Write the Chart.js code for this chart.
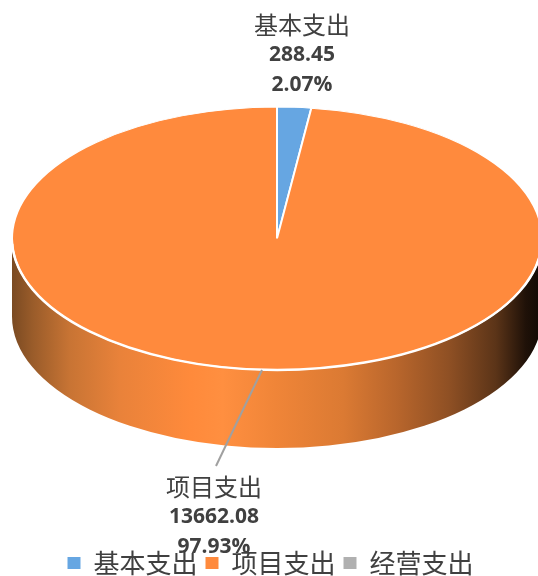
<!DOCTYPE html>
<html>
<head>
<meta charset="utf-8">
<script src="https://cdn.jsdelivr.net/npm/chart.js@4"></script>
<style>
  html, body { margin: 0; padding: 0; background: #fff; overflow: hidden; }
  #wrap { width: 538px; height: 576px; }
</style>
</head>
<body>
<div id="wrap"><canvas id="pie"></canvas></div>
<script>
const categories = ['基本支出', '项目支出', '经营支出'];
const values = [288.45, 13662.08, 0];
const valueLabels = ['288.45', '13662.08', ''];
const percentLabels = ['2.07%', '97.93%', ''];
const colors = ['#66A6E2', '#FF8A3D', '#B0B0B0'];

const TEXT_COLOR = '#404040';
const CJK_FONT = '"Noto Sans CJK SC", sans-serif';
const NUM_FONT = '"Open Sans", sans-serif';

// where the tilted pie sits in the picture
const CENTER_X = 277;
const CENTER_Y = 238.5;
const RADIUS = 265;
const TILT = 0.496;
const DEPTH = 78;

// the side wall of the pie, brightest just left of centre
const wallStops = [
  [0, '#7A4A22'], [0.04, '#9A5C2A'], [0.11, '#C87434'], [0.205, '#E9823A'],
  [0.34, '#FF8A3B'], [0.4, '#FF8F40'], [0.5, '#F08538'], [0.63, '#DB7A33'],
  [0.73, '#B9662C'], [0.83, '#8F5024'], [0.92, '#5B3418'], [0.977, '#1F1108'], [1, '#140B05']
];

function drawWall(ctx) {
  const left = CENTER_X - RADIUS;
  const grad = ctx.createLinearGradient(left, 0, 538, 0);
  wallStops.forEach(s => grad.addColorStop(s[0], s[1]));
  ctx.beginPath();
  ctx.ellipse(CENTER_X, CENTER_Y, RADIUS, RADIUS * TILT, 0, 0, Math.PI);
  ctx.ellipse(CENTER_X, CENTER_Y + DEPTH, RADIUS, RADIUS * TILT, 0, Math.PI, 0, true);
  ctx.closePath();
  ctx.fillStyle = grad;
  ctx.fill();
}

const tiltPlugin = {
  id: 'tilt',
  beforeDatasetsDraw(chart) {
    const ctx = chart.ctx;
    const arc = chart.getDatasetMeta(0).data[0];
    drawWall(ctx);
    ctx.save();
    ctx.translate(CENTER_X, CENTER_Y);
    ctx.scale(1, TILT);
    ctx.translate(-arc.x, -arc.y);
  },
  afterDatasetsDraw(chart) {
    const ctx = chart.ctx;
    ctx.restore();

    // white rim along the front edge
    ctx.beginPath();
    ctx.ellipse(CENTER_X, CENTER_Y, RADIUS, RADIUS * TILT, 0, 0.04, Math.PI - 0.04);
    ctx.strokeStyle = '#fff';
    ctx.lineWidth = 2.5;
    ctx.stroke();

    // leader line for the big slice
    ctx.beginPath();
    ctx.moveTo(262, 370);
    ctx.lineTo(216, 466);
    ctx.strokeStyle = '#A0A0A0';
    ctx.lineWidth = 2;
    ctx.stroke();

    drawLabel(ctx, 0, 302, 25, 30);
    drawLabel(ctx, 1, 214, 487, 30);
  }
};

function drawLabel(ctx, i, x, y, step) {
  ctx.save();
  ctx.textAlign = 'center';
  ctx.textBaseline = 'middle';
  ctx.fillStyle = TEXT_COLOR;
  ctx.font = '24px ' + CJK_FONT;
  ctx.fillText(categories[i], x, y);
  ctx.font = 'bold 21px ' + NUM_FONT;
  ctx.fillText(valueLabels[i], x, y + step);
  ctx.fillText(percentLabels[i], x, y + step * 2);
  ctx.restore();
}

new Chart(document.getElementById('pie'), {
  type: 'pie',
  data: {
    labels: categories,
    datasets: [{
      data: values,
      backgroundColor: colors,
      borderColor: '#fff',
      borderWidth: 2,
      radius: RADIUS
    }]
  },
  options: {
    responsive: true,
    maintainAspectRatio: false,
    animation: false,
    layout: { padding: { left: 3, bottom: -10 } },
    plugins: {
      tooltip: { enabled: false },
      legend: {
        position: 'bottom',
        labels: {
          boxWidth: 13,
          boxHeight: 12,
          padding: 8,
          color: TEXT_COLOR,
          font: { family: CJK_FONT, size: 26 },
          // no white outline on the legend squares
          generateLabels(chart) {
            return Chart.overrides.pie.plugins.legend.labels.generateLabels(chart)
              .map(item => ({ ...item, lineWidth: 0 }));
          }
        }
      }
    }
  },
  plugins: [tiltPlugin]
});
</script>
</body>
</html>
